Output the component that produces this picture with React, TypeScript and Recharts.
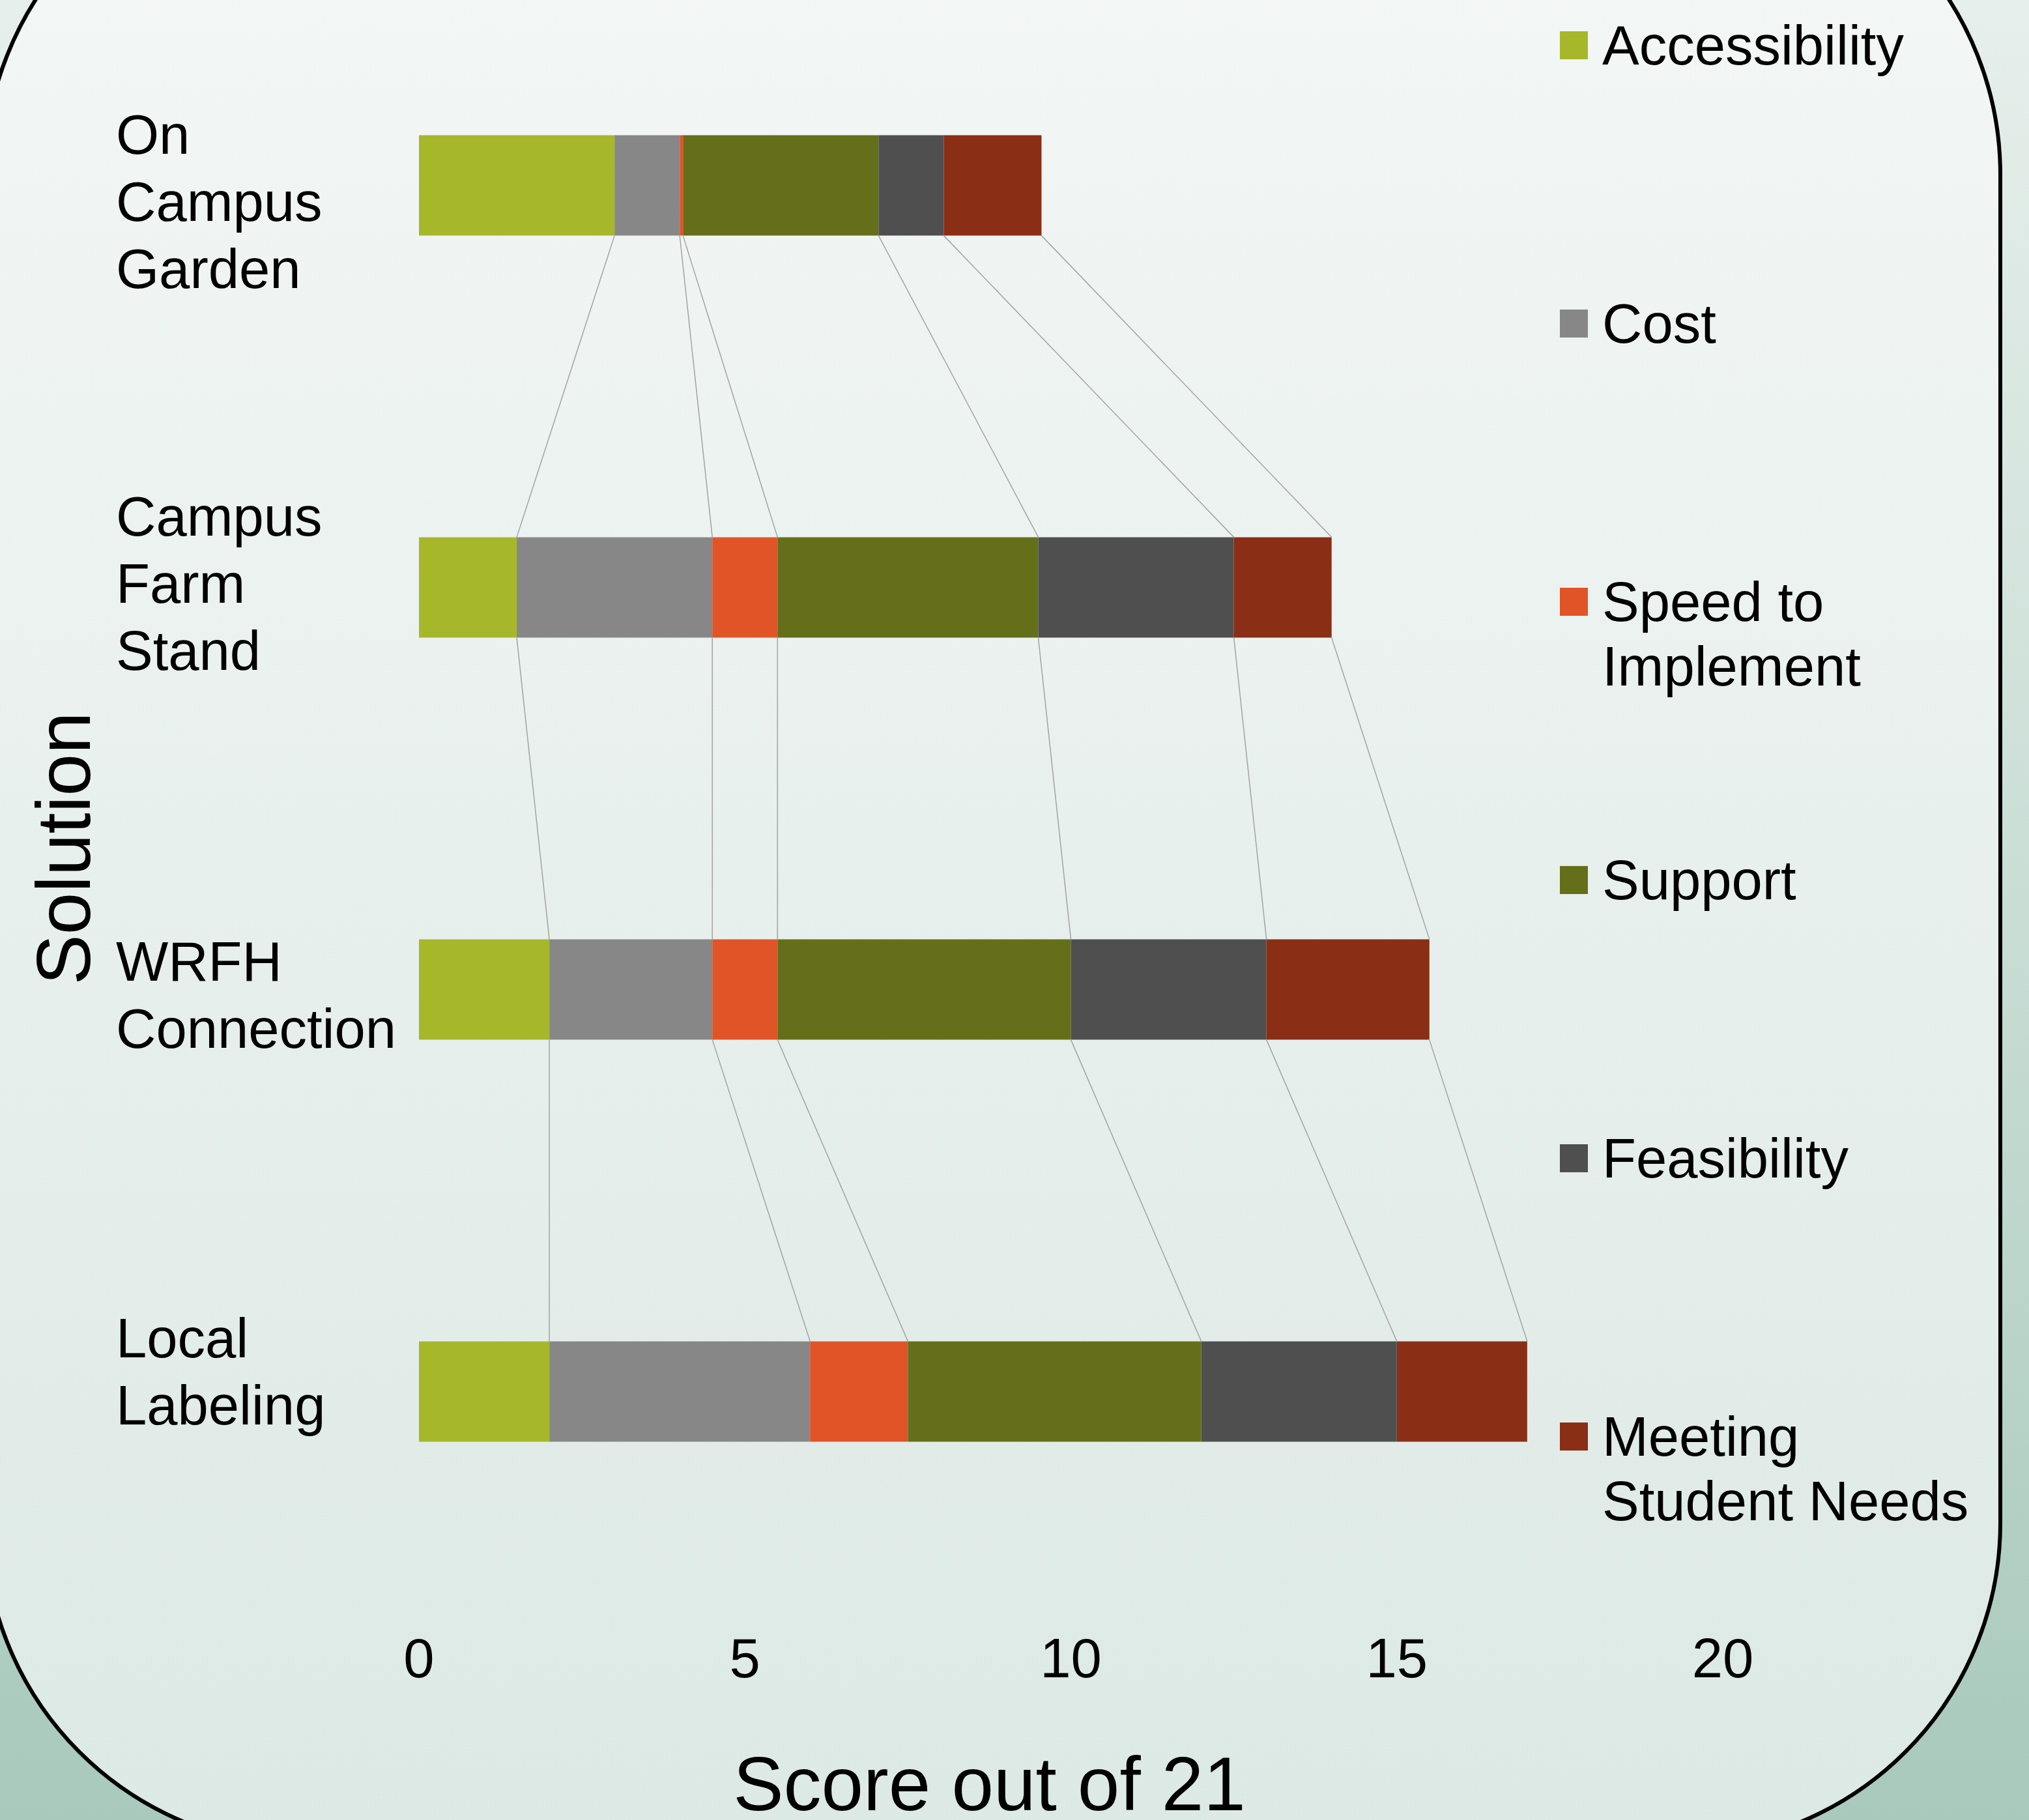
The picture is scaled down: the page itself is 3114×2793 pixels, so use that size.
import { BarChart, Bar, XAxis, YAxis, Legend, ReferenceLine, Label } from 'recharts';

const categories = ['On Campus Garden', 'Campus Farm Stand', 'WRFH Connection', 'Local Labeling'];
const accessibility = [3, 1.5, 2, 2];
const cost = [1, 3, 2.5, 4];
const speed = [0.05, 1, 1, 1.5];
const support = [3, 4, 4.5, 4.5];
const feasibility = [1, 3, 3, 3];
const studentNeeds = [1.5, 1.5, 2.5, 2];
const xTicks = [0, 5, 10, 15, 20];

const seriesKeys = ['accessibility', 'cost', 'speed', 'support', 'feasibility', 'studentNeeds'];
const seriesNames = ['Accessibility', 'Cost', 'Speed to Implement', 'Support', 'Feasibility', 'Meeting Student Needs'];
const seriesColors = ['#a7b72a', '#878787', '#e05428', '#656f19', '#4f4f4f', '#8a2e15'];
const seriesValues = [accessibility, cost, speed, support, feasibility, studentNeeds];

const data = categories.map((name, i) => ({
  name,
  pos: i,
  accessibility: accessibility[i],
  cost: cost[i],
  speed: speed[i],
  support: support[i],
  feasibility: feasibility[i],
  studentNeeds: studentNeeds[i],
}));

// bar takes 25% of its category band
const BAR_FRACTION = 0.25;

// running totals -> series connector lines between neighbouring bars
const totals = seriesValues.map((_, s) =>
  categories.map((__, i) => seriesValues.slice(0, s + 1).reduce((sum, arr) => sum + arr[i], 0))
);
const connectors: { x1: number; y1: number; x2: number; y2: number }[] = [];
totals.forEach((row) => {
  for (let i = 0; i < row.length - 1; i++) {
    connectors.push({ x1: row[i], y1: i + BAR_FRACTION / 2, x2: row[i + 1], y2: i + 1 - BAR_FRACTION / 2 });
  }
});

const FONT = '"Liberation Sans", Arial, Helvetica, sans-serif';

// the wrapped category labels don't sit exactly on the bar centres in the original
const labelNudge = [24, -7, 8, -31];

const CategoryTick = (props: any) => {
  const { y, payload, index } = props;
  const words = String(payload.value).split(' ');
  const n = words.length;
  const cy = y + (labelNudge[index] || 0);
  return (
    <text x={178} y={cy} fontSize={85} fontFamily={FONT} fill="#000" textAnchor="start">
      {words.map((w, k) => (
        <tspan key={k} x={178} y={cy + (k - (n - 1) / 2) * 103 + 30}>
          {w}
        </tspan>
      ))}
    </text>
  );
};

const YTitle = (props: any) => {
  const vb = props.viewBox || { x: 0, y: 176, width: 643, height: 2468 };
  const cy = vb.y + vb.height / 2 + 92;
  return (
    <text
      transform={`translate(${vb.x + 138}, ${cy}) rotate(-90)`}
      textAnchor="middle"
      fontSize={116}
      fontFamily={FONT}
      fill="#000"
    >
      Solution
    </text>
  );
};

const XTitle = (props: any) => {
  const vb = props.viewBox || { x: 643, y: 2644, width: 2001, height: 400 };
  return (
    <text
      x={vb.x + vb.width / 2 - 125}
      y={vb.y + 334}
      textAnchor="middle"
      fontSize={116}
      fontFamily={FONT}
      fill="#000"
    >
      Score out of 21
    </text>
  );
};

const renderLegend = (props: any) => {
  const items = [...(props.payload || [])].sort(
    (a: any, b: any) => seriesNames.indexOf(a.value) - seriesNames.indexOf(b.value)
  );
  return (
    <div style={{ fontFamily: FONT }}>
      {items.map((entry: any) => (
        <div key={entry.value} style={{ height: 427, display: 'flex', alignItems: 'flex-start' }}>
          <span style={{ width: 43, height: 43, background: entry.color, marginTop: 28, flex: '0 0 auto' }} />
          <span style={{ marginLeft: 22, width: 580, fontSize: 85, lineHeight: '99px', color: '#000' }}>
            {entry.value}
          </span>
        </div>
      ))}
    </div>
  );
};

export default function App() {
  return (
    <div
      style={{
        position: 'absolute',
        left: 0,
        top: 0,
        width: 3114,
        height: 2793,
        overflow: 'hidden',
        background: 'linear-gradient(to bottom, #e6efeb 0%, #c9ddd5 50%, #a8c9bc 100%)',
      }}
    >
      <div
        style={{
          position: 'absolute',
          left: -27,
          top: -232,
          width: 3100,
          height: 3069,
          boxSizing: 'border-box',
          border: '6px solid #000',
          borderRadius: 500,
          background: 'linear-gradient(to bottom, #f5f8f7 0%, #f2f6f5 10%, #e8f0ed 50%, #dce9e4 100%)',
        }}
      />
      <div style={{ position: 'absolute', left: 0, top: -200 }}>
        <BarChart
          width={3114}
          height={3044}
          data={data}
          layout="vertical"
          margin={{ top: 176, right: 470, left: 0, bottom: 0 }}
          barCategoryGap={`${((1 - BAR_FRACTION) / 2) * 100}%`}
        >
          <XAxis
            type="number"
            domain={[0, 20]}
            ticks={xTicks}
            allowDataOverflow
            height={400}
            axisLine={false}
            tickLine={false}
            tickSize={0}
            tickMargin={70}
            tick={{ fontSize: 85, fill: '#000', fontFamily: FONT }}
          >
            <Label content={XTitle} />
          </XAxis>
          <YAxis
            type="category"
            dataKey="name"
            width={643}
            axisLine={false}
            tickLine={false}
            tick={CategoryTick}
            interval={0}
          >
            <Label content={YTitle} />
          </YAxis>
          <YAxis
            yAxisId="pos"
            type="number"
            dataKey="pos"
            domain={[-0.5, categories.length - 0.5]}
            allowDataOverflow
            hide
          />
          <Legend
            layout="vertical"
            align="center"
            verticalAlign="middle"
            content={renderLegend}
            wrapperStyle={{ left: 2394, top: 220, width: 720 }}
          />
          {seriesKeys.map((key, s) => (
            <Bar
              key={key}
              dataKey={key}
              name={seriesNames[s]}
              stackId="score"
              fill={seriesColors[s]}
              isAnimationActive={false}
            />
          ))}
          {connectors.map((c, k) => (
            <ReferenceLine
              key={k}
              yAxisId="pos"
              segment={[
                { x: c.x1, y: c.y1 },
                { x: c.x2, y: c.y2 },
              ]}
              stroke="#a3a3a3"
              strokeWidth={1.5}
              ifOverflow="visible"
            />
          ))}
        </BarChart>
      </div>
    </div>
  );
}
